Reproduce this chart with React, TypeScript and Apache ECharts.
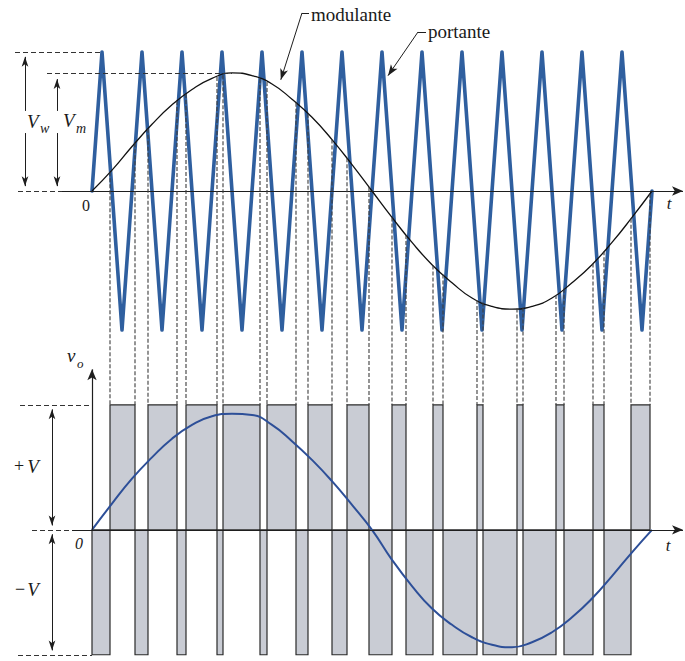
import React, { useEffect, useRef } from 'react';
import * as echarts from 'echarts';

// Time is measured in carrier periods: one period of the modulating wave = 14 carrier periods.
const carrierT = [0, 0.25, 0.75, 1.25, 1.75, 2.25, 2.75, 3.25, 3.75, 4.25, 4.75, 5.25, 5.75, 6.25, 6.75, 7.25, 7.75, 8.25, 8.75, 9.25, 9.75, 10.25, 10.75, 11.25, 11.75, 12.25, 12.75, 13.25, 13.75, 14];
const carrierV = [0, 1, -1, 1, -1, 1, -1, 1, -1, 1, -1, 1, -1, 1, -1, 1, -1, 1, -1, 1, -1, 1, -1, 1, -1, 1, -1, 1, -1, 0];

const modT = [0, 0.5, 1, 1.5, 2, 2.5, 3, 3.5, 4, 4.5, 5, 5.5, 6, 6.5, 7, 7.5, 8, 8.5, 9, 9.5, 10, 10.5, 11, 11.5, 12, 12.5, 13, 13.5, 14];
// modulante (upper panel, in units of the carrier peak V_w)
const modTop = [0, 0.15, 0.32, 0.48, 0.62, 0.73, 0.81, 0.85, 0.83, 0.77, 0.66, 0.53, 0.37, 0.19, 0, -0.19, -0.37, -0.53, -0.66, -0.77, -0.83, -0.85, -0.83, -0.77, -0.66, -0.53, -0.37, -0.19, 0];
// fundamental of v_o (lower panel, in units of V)
const modBottom = [0, 0.21, 0.41, 0.58, 0.73, 0.84, 0.91, 0.93, 0.92, 0.84, 0.71, 0.56, 0.39, 0.2, 0, -0.24, -0.45, -0.63, -0.76, -0.86, -0.92, -0.94, -0.9, -0.82, -0.7, -0.55, -0.37, -0.18, 0];

// switching instants of v_o (output starts at -V)
const pulseEdges = [0, 0.45, 1.075, 1.4, 2.125, 2.35, 3.125, 3.275, 4.2, 4.375, 5.1, 5.4, 6.0, 6.375, 6.925, 7.5, 7.85, 8.525, 8.775, 9.625, 9.775, 10.625, 10.775, 11.6, 11.8, 12.525, 12.8, 13.475, 13.95];
const firstLevel = -1;

const X_MIN = -2.3;
const X_MAX = 14.825;

function interp(xs: number[], ys: number[], x: number) {
  for (let i = 1; i < xs.length; i++) {
    if (x <= xs[i]) {
      const f = (x - xs[i - 1]) / (xs[i] - xs[i - 1]);
      return ys[i - 1] + f * (ys[i] - ys[i - 1]);
    }
  }
  return ys[ys.length - 1];
}

export default function App() {
  const ref = useRef<HTMLDivElement>(null);
  useEffect(() => {
    const el = ref.current;
    if (!el) return;
    const chart = echarts.init(el, null, { renderer: 'svg' });
    const zip = (a: number[], b: number[]) => a.map((v, i) => [v, b[i]]);
    const segments: number[][] = [];
    for (let i = 0; i < pulseEdges.length - 1; i++) {
      segments.push([pulseEdges[i], pulseEdges[i + 1], i % 2 === 0 ? firstLevel : -firstLevel]);
    }
    const ink = '#1e1e1e';
    const dashed = { type: [5, 3], color: '#333', width: 1 };
    const solid = { type: 'solid', color: ink, width: 1.2 };
    const thin = { type: 'solid', color: ink, width: 1 };
    const seg = (a: number[], b: number[], style: any, s0 = 'none', s1 = 'none', size: any = [5, 10]) => [
      { coord: a, symbol: s0, symbolSize: size, lineStyle: style },
      { coord: b, symbol: s1, symbolSize: size },
    ];
    const ml = (data: any[]) => ({
      silent: true,
      symbol: ['none', 'none'],
      label: { show: false },
      emphasis: { disabled: true },
      animation: false,
      data,
    });

    const topMarks = [
      seg([-1.925, 1], [0.25, 1], dashed),
      seg([-1.125, 0.85], [3.5, 0.85], dashed),
      seg([-1.85, 0], [-0.75, 0], dashed),
      seg([-0.75, 0], [14.775, 0], solid, 'none', 'arrow', [7, 11]),
      seg([-1.675, 0.965], [-1.675, 0.576], thin, 'arrow', 'none'),
      seg([-1.675, 0.417], [-1.675, 0.035], thin, 'none', 'arrow'),
      seg([-0.875, 0.805], [-0.875, 0.576], thin, 'arrow', 'none'),
      seg([-0.875, 0.417], [-0.875, 0.035], thin, 'none', 'arrow'),
      seg([5.425, 1.281], [5.25, 1.281], thin),
      seg([5.25, 1.281], [4.72, 0.8], thin, 'none', 'arrow', [6, 11]),
      seg([8.35, 1.144], [8.15, 1.144], thin),
      seg([8.15, 1.144], [7.4, 0.83], thin, 'none', 'arrow', [6, 11]),
    ];
    const bottomMarks = [
      seg([-1.8, 1], [0, 1], dashed),
      seg([-1.85, -1], [0, -1], dashed),
      seg([-1.5, 0], [-0.5, 0], dashed),
      seg([-0.5, 0], [14.775, 0], solid, 'none', 'arrow', [7, 11]),
      seg([0, 0], [0, 1.285], solid, 'none', 'arrow', [7, 11]),
      seg([-1.0, 0.965], [-1.0, 0.035], thin, 'arrow', 'arrow'),
      seg([-1.0, -0.035], [-1.0, -0.965], thin, 'arrow', 'arrow'),
    ];

    chart.setOption({
      animation: false,
      backgroundColor: '#ffffff',
      grid: [
        { left: 0, top: 10.3, width: 685, height: 361.4 },
        { left: 0, top: 355, width: 685, height: 306.25 },
      ],
      xAxis: [
        { gridIndex: 0, type: 'value', min: X_MIN, max: X_MAX, show: false },
        { gridIndex: 1, type: 'value', min: X_MIN, max: X_MAX, show: false },
      ],
      yAxis: [
        { gridIndex: 0, type: 'value', min: -1.3, max: 1.3, show: false },
        { gridIndex: 1, type: 'value', min: -1.05, max: 1.4, show: false },
      ],
      series: [
        {
          name: 'portante',
          type: 'line',
          xAxisIndex: 0,
          yAxisIndex: 0,
          data: zip(carrierT, carrierV),
          symbol: 'none',
          silent: true,
          clip: false,
          z: 2,
          lineStyle: { color: '#2f5f9f', width: 3.6, join: 'round', cap: 'round' },
        },
        {
          name: 'modulante',
          type: 'line',
          xAxisIndex: 0,
          yAxisIndex: 0,
          data: zip(modT, modTop),
          smooth: true,
          symbol: 'none',
          silent: true,
          clip: false,
          z: 3,
          lineStyle: { color: '#111', width: 1.3 },
          markLine: ml(topMarks),
        },
        {
          name: 'vo',
          type: 'custom',
          xAxisIndex: 1,
          yAxisIndex: 1,
          data: segments,
          dimensions: ['t0', 't1', 'level'],
          encode: { x: [0, 1], y: 2 },
          silent: true,
          clip: false,
          z: 1,
          renderItem: (params: any, api: any) => {
            const a = api.coord([api.value(0), api.value(2)]);
            const b = api.coord([api.value(1), 0]);
            return {
              type: 'rect',
              shape: { x: a[0], y: Math.min(a[1], b[1]), width: b[0] - a[0], height: Math.abs(b[1] - a[1]) },
              style: { fill: '#c9ccd4', stroke: '#2a2a2a', lineWidth: 1.2 },
            };
          },
        },
        {
          name: 'fondamentale',
          type: 'line',
          xAxisIndex: 1,
          yAxisIndex: 1,
          data: zip(modT, modBottom),
          smooth: true,
          symbol: 'none',
          silent: true,
          clip: false,
          z: 3,
          lineStyle: { color: '#2d4f98', width: 2 },
          markLine: ml(bottomMarks),
        },
      ],
    });

    const conns = pulseEdges.slice(1).map((t) => {
      const a = chart.convertToPixel({ gridIndex: 0 } as any, [t, interp(modT, modTop, t)]) as number[];
      const b = chart.convertToPixel({ gridIndex: 1 } as any, [t, 1]) as number[];
      return {
        type: 'line',
        silent: true,
        z: 10,
        shape: { x1: a[0], y1: a[1], x2: b[0], y2: b[1] },
        style: { stroke: '#3c3c3c', lineWidth: 1.1, lineDash: [4, 2] },
      };
    });
    const serif = '"Liberation Serif", "DejaVu Serif", serif';
    const txt = (x: number, y: number, text: string, font: string, align = 'center') => ({
      type: 'text',
      x,
      y,
      silent: true,
      z: 20,
      style: {
        text,
        font,
        fill: '#1a1a1a',
        align,
        textAlign: align,
        verticalAlign: 'middle',
        textVerticalAlign: 'middle',
      },
    });
    const it = (s: number) => `italic ${s}px ${serif}`;
    const up = (s: number) => `${s}px ${serif}`;
    const texts = [
      txt(311, 14, 'modulante', up(19), 'left'),
      txt(428, 31, 'portante', up(19), 'left'),
      txt(27, 121, 'V', it(19), 'left'),
      txt(40, 128, 'w', it(14), 'left'),
      txt(63, 120, 'V', it(19), 'left'),
      txt(76, 128, 'm', it(14), 'left'),
      txt(86, 205, '0', up(16)),
      txt(669, 203, 't', it(17)),
      txt(19, 466, '+', up(18)),
      txt(33, 466, 'V', it(19)),
      txt(20, 589, '\u2212', up(18)),
      txt(33, 589, 'V', it(19)),
      txt(79, 543, '0', it(16)),
      txt(668, 545, 't', it(17)),
      txt(67, 355, 'v', it(19), 'left'),
      txt(77, 363, 'o', it(13), 'left'),
    ];
    chart.setOption({ graphic: { elements: [...conns, ...texts] } });

    return () => chart.dispose();
  }, []);
  return <div ref={ref} style={{ position: 'absolute', left: 0, top: 0, width: 685, height: 661 }} />;
}
